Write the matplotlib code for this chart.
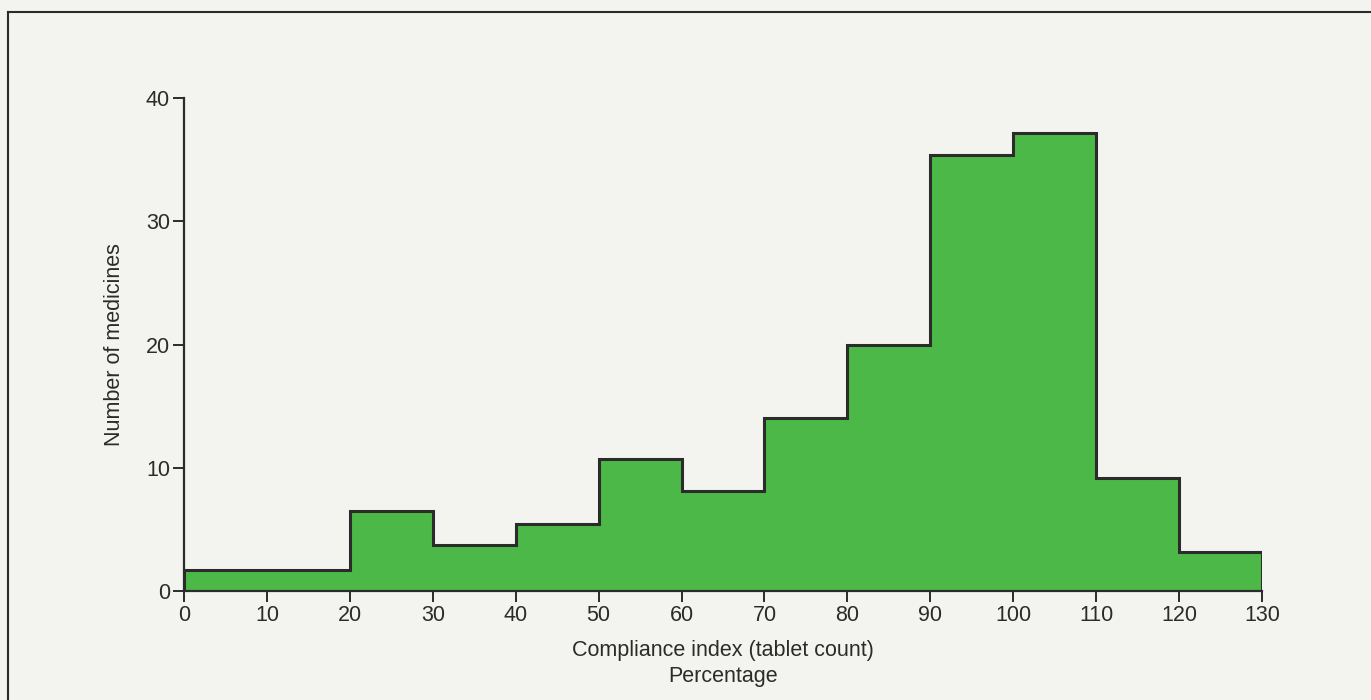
import matplotlib.pyplot as plt
from matplotlib.lines import Line2D

plt.rcParams['font.family'] = ['Liberation Sans', 'DejaVu Sans']

# bin edges (percent) and counts
edges = [0, 20, 30, 40, 50, 60, 70, 80, 90, 100, 110, 120, 130]
counts = [1.7, 6.5, 3.7, 5.4, 10.7, 8.1, 14.0, 20.0, 35.4, 37.2, 9.2, 3.2]
xticks = [0, 10, 20, 30, 40, 50, 60, 70, 80, 90, 100, 110, 120, 130]
yticks = [0, 10, 20, 30, 40]

bg = '#f3f4ef'
green = '#4cb848'
ink = '#2b2b2b'

fig = plt.figure(figsize=(13.71, 7), dpi=100, facecolor=bg)
ax = fig.add_axes([0.1342, 0.1557, 0.7863, 0.7043])
ax.set_facecolor(bg)

ax.stairs(counts, edges, fill=True, color=green, baseline=0)
ax.stairs(counts, edges, color=ink, linewidth=2.2, baseline=0)

ax.set_xlim(0, 130)
ax.set_ylim(0, 40)
ax.set_xticks(xticks)
ax.set_yticks(yticks)
ax.tick_params(colors=ink, labelsize=15.5, width=1.4, length=8, pad=2)
for s in ['top', 'right']:
    ax.spines[s].set_visible(False)
for s in ['left', 'bottom']:
    ax.spines[s].set_color(ink)
    ax.spines[s].set_linewidth(1.6)

ax.set_ylabel('Number of medicines', fontsize=15.5, color=ink, labelpad=15)
ax.set_xlabel('Compliance index (tablet count)\nPercentage', fontsize=15.5,
              color=ink, labelpad=10, linespacing=1.35)

# frame around the figure (top and left edges)
fig.add_artist(Line2D([8 / 1371, 8 / 1371], [0, 1 - 12 / 700], color=ink, lw=1.5))
fig.add_artist(Line2D([8 / 1371, 1], [1 - 12 / 700, 1 - 12 / 700], color=ink, lw=1.5))

fig.savefig('out.png', dpi=100, facecolor=bg)
